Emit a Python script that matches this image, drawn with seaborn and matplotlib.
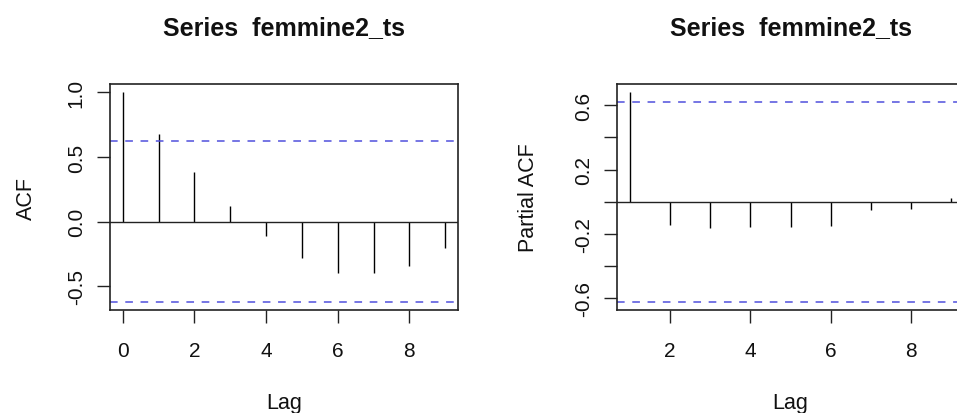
import matplotlib
matplotlib.use("Agg")
import matplotlib.pyplot as plt
import seaborn as sns
import numpy as np

# ---- data ----
acf_lags = [0, 1, 2, 3, 4, 5, 6, 7, 8, 9]
acf_values = [1.0, 0.680, 0.383, 0.120, -0.110, -0.283, -0.397, -0.401, -0.342, -0.208]
pacf_lags = [1, 2, 3, 4, 5, 6, 7, 8, 9]
pacf_values = [0.680, -0.142, -0.165, -0.159, -0.159, -0.148, -0.049, -0.045, 0.025]
ci_bound = 0.62

title_text = "Series  femmine2_ts"
xlabel_text = "Lag"
acf_ylabel = "ACF"
pacf_ylabel = "Partial ACF"

acf_xticks = [0, 2, 4, 6, 8]
acf_xticklabels = ["0", "2", "4", "6", "8"]
acf_yticks = [-0.5, 0.0, 0.5, 1.0]
acf_yticklabels = ["-0.5", "0.0", "0.5", "1.0"]

pacf_xticks = [2, 4, 6, 8]
pacf_xticklabels = ["2", "4", "6", "8"]
pacf_yticks = [-0.6, -0.4, -0.2, 0.0, 0.2, 0.4, 0.6]
pacf_yticklabels = ["-0.6", "", "-0.2", "", "0.2", "", "0.6"]

# ---- style ----
sns.set_theme(style="ticks")
plt.rcParams["font.family"] = ["Liberation Sans", "DejaVu Sans"]

W, H = 957, 414
fig = plt.figure(figsize=(W / 100, H / 100), dpi=100)
fig.patch.set_facecolor("white")

box_color = "#222222"
ci_color = "#5050dc"


def panel(ax, lags, vals, ylabel, xticks, xticklabels, yticks, yticklabels, ylab_x):
    ax.set_facecolor("white")
    ax.vlines(lags, 0, vals, color="black", lw=1.0)
    ax.axhline(0, color=box_color, lw=1.0)
    ax.axhline(ci_bound, color=ci_color, lw=1.1, ls=(0, (5, 5)))
    ax.axhline(-ci_bound, color=ci_color, lw=1.1, ls=(0, (5, 5)))

    xmin, xmax = min(lags), max(lags)
    px = 0.04 * (xmax - xmin)
    ax.set_xlim(xmin - px, xmax + px)
    lo = min(min(vals), -ci_bound)
    hi = max(max(vals), ci_bound)
    py = 0.04 * (hi - lo)
    ax.set_ylim(lo - py, hi + py)

    ax.set_xticks(xticks)
    ax.set_xticklabels(xticklabels)
    ax.set_yticks(yticks)
    ax.set_yticklabels(yticklabels)

    for s in ax.spines.values():
        s.set_color(box_color)
        s.set_linewidth(1.2)
        s.set_visible(True)
    ax.grid(False)

    ax.tick_params(axis="both", direction="out", length=9.5, width=1.0,
                   color=box_color, labelsize=15, labelcolor="#111111")
    ax.tick_params(axis="x", pad=13)
    ax.tick_params(axis="y", pad=8, labelrotation=90)
    for lbl in ax.get_yticklabels():
        lbl.set_va("center")

    ax.set_ylabel(ylabel, fontsize=15.5, color="#111111")
    ax.yaxis.label.set_va("center")
    ax.yaxis.set_label_coords(ylab_x, 0.5)

    ax.set_xlabel(xlabel_text, fontsize=15.5, color="#111111")
    ax.xaxis.label.set_va("baseline")
    ax.xaxis.set_label_coords(0.5, (311 - 409) / 226)

    ax.text(0.5, (311 - 35) / 226, title_text, transform=ax.transAxes,
            ha="center", va="baseline", fontsize=18, fontweight="bold",
            color="#111111")


ax1 = fig.add_axes([110 / W, (H - 311) / H, 348 / W, 226 / H])
panel(ax1, acf_lags, acf_values, acf_ylabel, acf_xticks, acf_xticklabels,
      acf_yticks, acf_yticklabels, (26 - 110) / 348)

ax2 = fig.add_axes([617.2 / W, (H - 311) / H, 346.8 / W, 226 / H])
panel(ax2, pacf_lags, pacf_values, pacf_ylabel, pacf_xticks, pacf_xticklabels,
      pacf_yticks, pacf_yticklabels, (529 - 617.2) / 346.8)

fig.savefig("out.png", dpi=100, facecolor="white")
